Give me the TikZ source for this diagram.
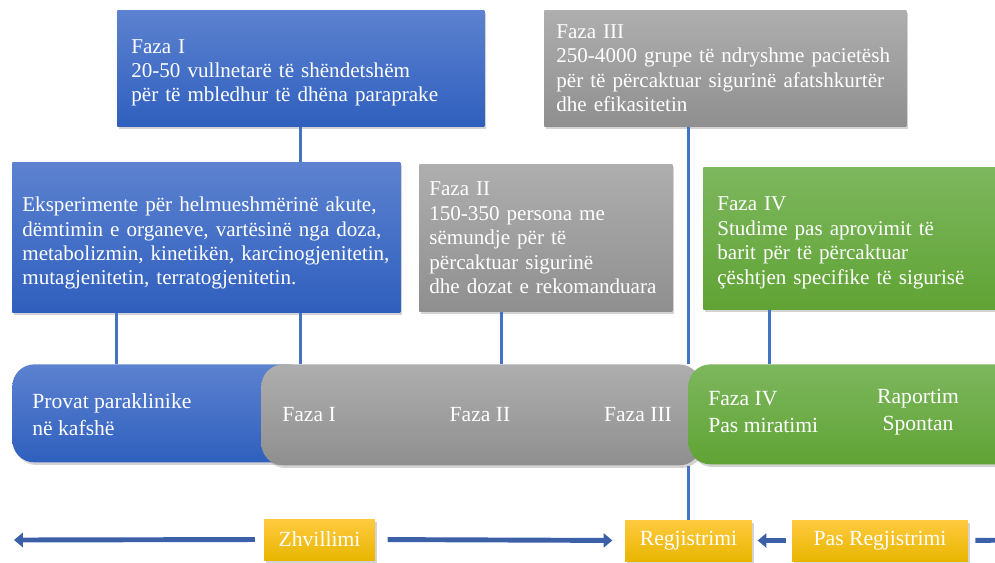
\documentclass[tikz,border=0pt]{standalone}
\usepackage{fontspec}
\setmainfont{Liberation Serif}
\usetikzlibrary{positioning,shadows,calc,arrows.meta}
\definecolor{blueA}{RGB}{92,130,208}
\definecolor{blueB}{RGB}{47,95,190}
\definecolor{grayA}{RGB}{174,174,174}
\definecolor{grayB}{RGB}{143,143,143}
\definecolor{greenA}{RGB}{125,183,94}
\definecolor{greenB}{RGB}{96,163,52}
\definecolor{goldA}{RGB}{255,202,64}
\definecolor{goldB}{RGB}{232,182,0}
\definecolor{linkblue}{RGB}{68,114,196}
\definecolor{arrowblue}{RGB}{59,96,168}
\tikzset{
        box/.style={anchor=north west, inner xsep=0.28cm, inner ysep=0pt, align=left, text=white,
                font=\fontsize{12}{13.9}\selectfont,
                drop shadow={shadow xshift=1.2pt, shadow yshift=-1.5pt, opacity=0.35}}, % the phase boxes
        bluebox/.style={box, top color=blueA, bottom color=blueB},
        graybox/.style={box, top color=grayA, bottom color=grayB},
        greenbox/.style={box, top color=greenA, bottom color=greenB},
        lower/.style={execute at begin node={\rule{0pt}{#1}}}, % pushes the text block down a little
        bar/.style={anchor=north west, rounded corners=0.44cm, inner sep=0pt,
                drop shadow={shadow xshift=1.2pt, shadow yshift=-1.5pt, opacity=0.35}}, % the long timeline
        bartext/.style={text=white, inner sep=0pt, font=\fontsize{12.3}{15.3}\selectfont},
        goldbox/.style={top color=goldA, bottom color=goldB, text=white, minimum height=0.82cm,
                font=\fontsize{12.3}{13}\selectfont,
                drop shadow={shadow xshift=1.2pt, shadow yshift=-1.5pt, opacity=0.35}},
        link/.style={draw=linkblue, line width=1.7pt},
        bigarrow/.style={draw=arrowblue, line width=2.8pt, -{Triangle[width=8pt,length=5pt]}},
}

\begin{document}
\begin{tikzpicture}[x=0.02cm, y=-0.02cm]
\useasboundingbox (0,0) rectangle (995,562);
\clip (0,0) rectangle (995,562);
% upper boxes
\node[bluebox, lower=13pt, text width=6.78cm, minimum height=2.32cm] (fazaone) at (117,10)
        {Faza I\\20-50 vullnetarë të shëndetshëm\\për të mbledhur të dhëna paraprake};
\node[graybox, inner xsep=0.24cm, text width=6.76cm, minimum height=2.32cm] (fazathree) at (544,10)
        {Faza III\\250-4000 grupe të ndryshme pacietësh\\për të përcaktuar sigurinë afatshkurtër\\dhe efikasitetin};
\node[bluebox, lower=15pt, inner xsep=0.2cm, text width=7.36cm, minimum height=3.0cm] (eksp) at (12,162)
        {Eksperimente për helmueshmërinë akute,\\dëmtimin e organeve, vartësinë nga doza,\\metabolizmin, kinetikën, karcinogjenitetin,\\mutagjenitetin, terratogjenitetin.};
\node[graybox, inner xsep=0.2cm, text width=4.66cm, minimum height=2.94cm] (fazatwo) at (419,164)
        {Faza II\\150-350 persona me\\sëmundje për të\\përcaktuar sigurinë\\dhe dozat e rekomanduara};
\node[greenbox, lower=13pt, text width=5.48cm, minimum height=2.84cm] (fazafour) at (703,167)
        {Faza IV\\Studime pas aprovimit të\\barit për të përcaktuar\\çështjen specifike të sigurisë};
% timeline bar
\node[bar, top color=blueA, bottom color=blueB, minimum width=5.96cm, minimum height=1.96cm] (prebar) at (12,364) {};
\node[bar, top color=grayA, bottom color=grayB, minimum width=8.8cm, minimum height=2.02cm] (clinbar) at (261,364) {};
\node[bar, top color=greenA, bottom color=greenB, minimum width=6.64cm, minimum height=2.0cm] (postbar) at (688,364) {};
\node[bartext, anchor=west, align=left] (provat) at (32,415) {Provat paraklinike\\në kafshë};
\node[bartext] (barone) at (309,415) {Faza I};
\node[bartext] (bartwo) at (480,415) {Faza II};
\node[bartext] (barthree) at (638,415) {Faza III};
\node[bartext, anchor=west, align=left] (barfour) at (708,412) {Faza IV\\Pas miratimi};
\node[bartext, align=center] (raportim) at (918,412) {Raportim\\Spontan};
% lower boxes
\node[goldbox, minimum width=2.22cm] (zhv) at (319.5,539.5) {Zhvillimi};
\node[goldbox, minimum width=2.54cm] (reg) at (688.5,540.5) {Regjistrimi};
\node[goldbox, minimum width=3.52cm] (pasreg) at (880,540.5) {Pas Regjistrimi};
\coordinate (leftend) at (14,540);
\coordinate (rightend) at (1020,540);
% connectors
\draw[link] (fazaone.south) -- (fazaone.south |- eksp.north);
\coordinate (ekspfoot) at ($(eksp.south west)!0.268!(eksp.south east)$);
\draw[link] (ekspfoot) -- (ekspfoot |- prebar.north);
\draw[link] (fazaone.south |- eksp.south) -- (fazaone.south |- clinbar.north);
\coordinate (twofoot) at ($(fazatwo.south west)!0.325!(fazatwo.south east)$);
\draw[link] (twofoot) -- (twofoot |- clinbar.north);
\draw[link] (reg.north |- fazathree.south) -- (reg.north |- clinbar.north);
\draw[link] (reg.north |- clinbar.south) -- (reg.north);
\coordinate (fourfoot) at ($(fazafour.south west)!0.22!(fazafour.south east)$);
\draw[link] (fourfoot) -- (fourfoot |- postbar.north);
% arrows
\draw[bigarrow, shorten <=5pt] (zhv.west) -- (leftend);
\draw[bigarrow, shorten <=7pt, shorten >=7pt] (zhv.east) -- (reg.west);
\draw[bigarrow, shorten <=3pt, shorten >=3pt] (pasreg.west) -- (reg.east);
\draw[bigarrow, shorten <=4pt] (pasreg.east) -- (rightend);
\end{tikzpicture}
\end{document}
